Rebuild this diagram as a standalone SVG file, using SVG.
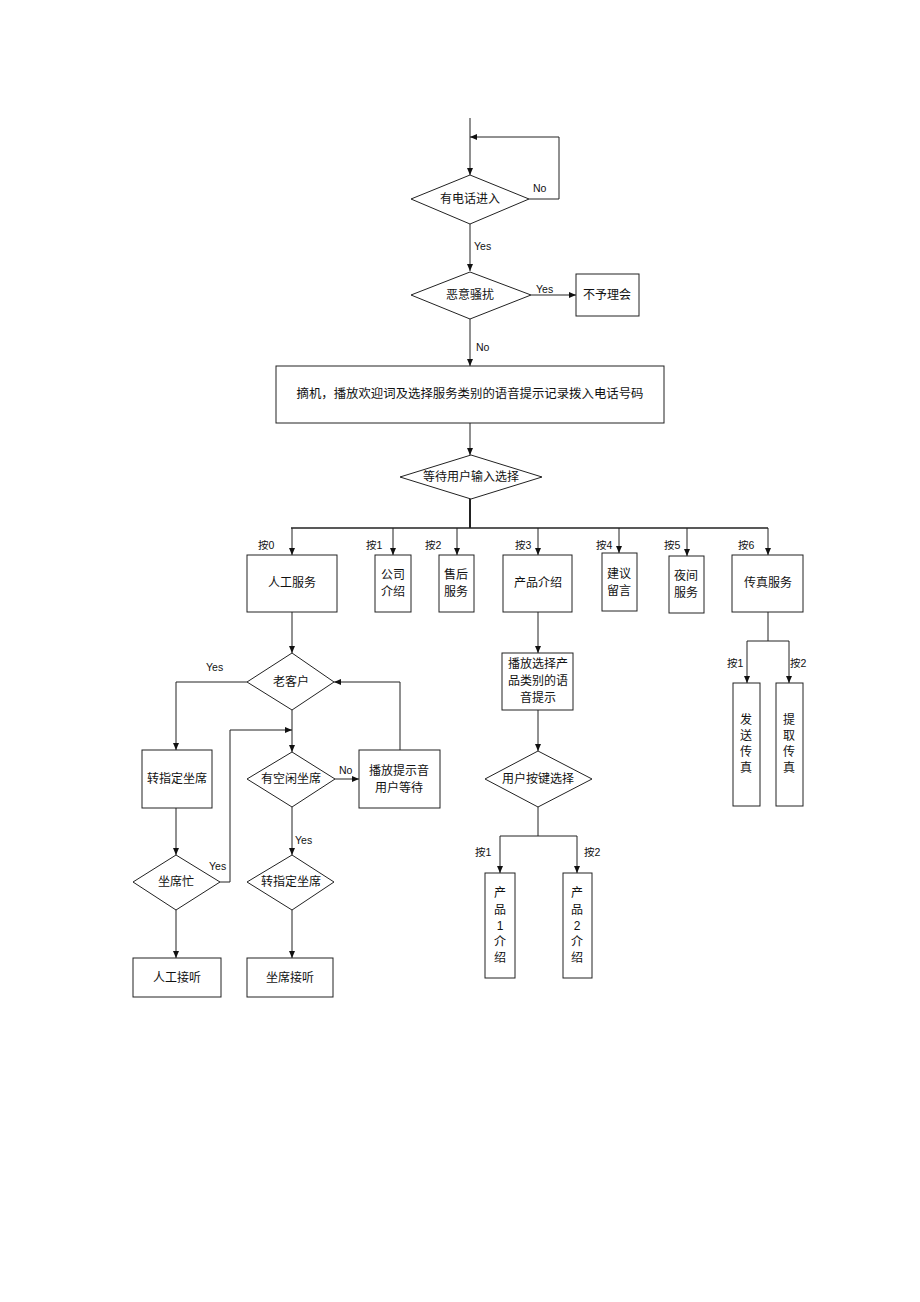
<svg xmlns="http://www.w3.org/2000/svg" width="920" height="1302" viewBox="0 0 920 1302">
<style>
.n{fill:#fff;stroke:#222;stroke-width:1}
.c{fill:none;stroke:#222;stroke-width:1}
.t{font-family:"Liberation Sans","Noto Sans CJK SC",sans-serif;font-size:12px;fill:#111;text-anchor:middle;dominant-baseline:central}
.l{font-family:"Liberation Sans","Noto Sans CJK SC",sans-serif;font-size:10.5px;fill:#111}
</style>
<defs>
<marker id="a" markerUnits="userSpaceOnUse" markerWidth="8" markerHeight="8" refX="7" refY="3" orient="auto">
<path d="M0,0 L7,3 L0,6 z" fill="#111"/>
</marker>
</defs>
<rect width="920" height="1302" fill="#fff"/>
<g id="connectors">
<path class="c" d="M470,118 V175" marker-end="url(#a)"/>
<path class="c" d="M529,199 H559 V137 H470" marker-end="url(#a)"/>
<path class="c" d="M470,224 V271" marker-end="url(#a)"/>
<path class="c" d="M531,295 H576" marker-end="url(#a)"/>
<path class="c" d="M470,319 V366" marker-end="url(#a)"/>
<path class="c" d="M470,423 V455" marker-end="url(#a)"/>
<path class="c" d="M470,499 V528" style="stroke-width:2"/>
<path class="c" d="M291,528 H768" style="stroke-width:1.5"/>
<path class="c" d="M292,528 V555" marker-end="url(#a)"/>
<path class="c" d="M393,528 V555" marker-end="url(#a)"/>
<path class="c" d="M457,528 V555" marker-end="url(#a)"/>
<path class="c" d="M538,528 V555" marker-end="url(#a)"/>
<path class="c" d="M619,528 V553" marker-end="url(#a)"/>
<path class="c" d="M687,528 V556" marker-end="url(#a)"/>
<path class="c" d="M768,528 V555" marker-end="url(#a)"/>
<path class="c" d="M292,612 V653" marker-end="url(#a)"/>
<path class="c" d="M247,682 H176 V750" marker-end="url(#a)"/>
<path class="c" d="M292,710 V752" marker-end="url(#a)"/>
<path class="c" d="M335,779 H359" marker-end="url(#a)"/>
<path class="c" d="M400,750 V682 H334" marker-end="url(#a)"/>
<path class="c" d="M176,808 V855" marker-end="url(#a)"/>
<path class="c" d="M220,882 H230 V730 H292" marker-end="url(#a)"/>
<path class="c" d="M292,807 V855" marker-end="url(#a)"/>
<path class="c" d="M176,910 V958" marker-end="url(#a)"/>
<path class="c" d="M292,910 V958" marker-end="url(#a)"/>
<path class="c" d="M538,612 V653" marker-end="url(#a)"/>
<path class="c" d="M538,710 V751" marker-end="url(#a)"/>
<path class="c" d="M538,807 V836 M500,836 H577"/>
<path class="c" d="M500,836 V873" marker-end="url(#a)"/>
<path class="c" d="M577,836 V873" marker-end="url(#a)"/>
<path class="c" d="M768,612 V641 M747,641 H789"/>
<path class="c" d="M747,641 V683" marker-end="url(#a)"/>
<path class="c" d="M789,641 V683" marker-end="url(#a)"/>
<text class="l" x="533" y="192">No</text>
<text class="l" x="474" y="250">Yes</text>
<text class="l" x="536" y="293">Yes</text>
<text class="l" x="476" y="351">No</text>
<text class="l" x="258" y="549">按0</text>
<text class="l" x="366" y="549">按1</text>
<text class="l" x="425" y="549">按2</text>
<text class="l" x="515" y="549">按3</text>
<text class="l" x="596" y="549">按4</text>
<text class="l" x="664" y="549">按5</text>
<text class="l" x="738" y="549">按6</text>
<text class="l" x="206" y="671">Yes</text>
<text class="l" x="339" y="774">No</text>
<text class="l" x="209" y="870">Yes</text>
<text class="l" x="295" y="844">Yes</text>
<text class="l" x="475" y="856">按1</text>
<text class="l" x="584" y="856">按2</text>
<text class="l" x="727" y="667">按1</text>
<text class="l" x="790" y="667">按2</text>
</g>
<g id="n_call"><polygon class="n" points="411,199 470,175 529,199 470,224"/><text class="t" x="470" y="199">有电话进入</text></g>
<g id="n_harass"><polygon class="n" points="411,295 470,272 531,295 470,319"/><text class="t" x="470" y="295">恶意骚扰</text></g>
<g id="n_ignore"><rect class="n" x="576" y="274" width="63" height="42"/><text class="t" x="607" y="295">不予理会</text></g>
<g id="n_answer"><rect class="n" x="276" y="366" width="388" height="57"/><text class="t" x="470" y="394" style="font-size:12.4px">摘机，播放欢迎词及选择服务类别的语音提示记录拨入电话号码</text></g>
<g id="n_wait"><polygon class="n" points="400,477 471,455 542,477 471,499"/><text class="t" x="471" y="477">等待用户输入选择</text></g>
<g id="n_manual"><rect class="n" x="247" y="555" width="90" height="57"/><text class="t" x="292" y="583">人工服务</text></g>
<g id="n_company"><rect class="n" x="375" y="555" width="36" height="57"/><text class="t" x="393" y="575">公司</text><text class="t" x="393" y="592">介绍</text></g>
<g id="n_after"><rect class="n" x="439" y="555" width="35" height="57"/><text class="t" x="456" y="575">售后</text><text class="t" x="456" y="592">服务</text></g>
<g id="n_product"><rect class="n" x="503" y="555" width="69" height="57"/><text class="t" x="538" y="583">产品介绍</text></g>
<g id="n_suggest"><rect class="n" x="602" y="553" width="35" height="58"/><text class="t" x="619" y="574">建议</text><text class="t" x="619" y="591">留言</text></g>
<g id="n_night"><rect class="n" x="669" y="556" width="35" height="57"/><text class="t" x="686" y="576">夜间</text><text class="t" x="686" y="593">服务</text></g>
<g id="n_fax"><rect class="n" x="732" y="555" width="71" height="57"/><text class="t" x="768" y="583">传真服务</text></g>
<g id="n_old"><polygon class="n" points="247,682 292,653 334,682 292,710"/><text class="t" x="291" y="682">老客户</text></g>
<g id="n_transfer1"><rect class="n" x="142" y="750" width="70" height="58"/><text class="t" x="177" y="779">转指定坐席</text></g>
<g id="n_free"><polygon class="n" points="247,779 292,752 335,779 292,807"/><text class="t" x="291" y="779">有空闲坐席</text></g>
<g id="n_hold"><rect class="n" x="359" y="750" width="81" height="58"/><text class="t" x="399" y="771">播放提示音</text><text class="t" x="399" y="788">用户等待</text></g>
<g id="n_busy"><polygon class="n" points="133,882 176,855 220,882 176,910"/><text class="t" x="176" y="882">坐席忙</text></g>
<g id="n_transfer2"><polygon class="n" points="247,882 292,855 334,882 292,910"/><text class="t" x="291" y="882">转指定坐席</text></g>
<g id="n_manualans"><rect class="n" x="133" y="958" width="88" height="39"/><text class="t" x="177" y="978">人工接听</text></g>
<g id="n_seatans"><rect class="n" x="247" y="958" width="86" height="39"/><text class="t" x="290" y="978">坐席接听</text></g>
<g id="n_prodprompt"><rect class="n" x="502" y="653" width="71" height="57"/><text class="t" x="538" y="664">播放选择产</text><text class="t" x="538" y="681">品类别的语</text><text class="t" x="538" y="698">音提示</text></g>
<g id="n_keysel"><polygon class="n" points="485,779 538,751 592,779 538,807"/><text class="t" x="538" y="779">用户按键选择</text></g>
<g id="n_p1"><rect class="n" x="485" y="873" width="30" height="105"/><text class="t" x="500" y="893">产</text><text class="t" x="500" y="910">品</text><text class="t" x="500" y="926">1</text><text class="t" x="500" y="942">介</text><text class="t" x="500" y="958">绍</text></g>
<g id="n_p2"><rect class="n" x="563" y="873" width="29" height="105"/><text class="t" x="577" y="893">产</text><text class="t" x="577" y="910">品</text><text class="t" x="577" y="926">2</text><text class="t" x="577" y="942">介</text><text class="t" x="577" y="958">绍</text></g>
<g id="n_send"><rect class="n" x="733" y="683" width="27" height="123"/><text class="t" x="746" y="720">发</text><text class="t" x="746" y="736">送</text><text class="t" x="746" y="752">传</text><text class="t" x="746" y="768">真</text></g>
<g id="n_fetch"><rect class="n" x="776" y="683" width="27" height="123"/><text class="t" x="789" y="720">提</text><text class="t" x="789" y="736">取</text><text class="t" x="789" y="752">传</text><text class="t" x="789" y="768">真</text></g>
</svg>
